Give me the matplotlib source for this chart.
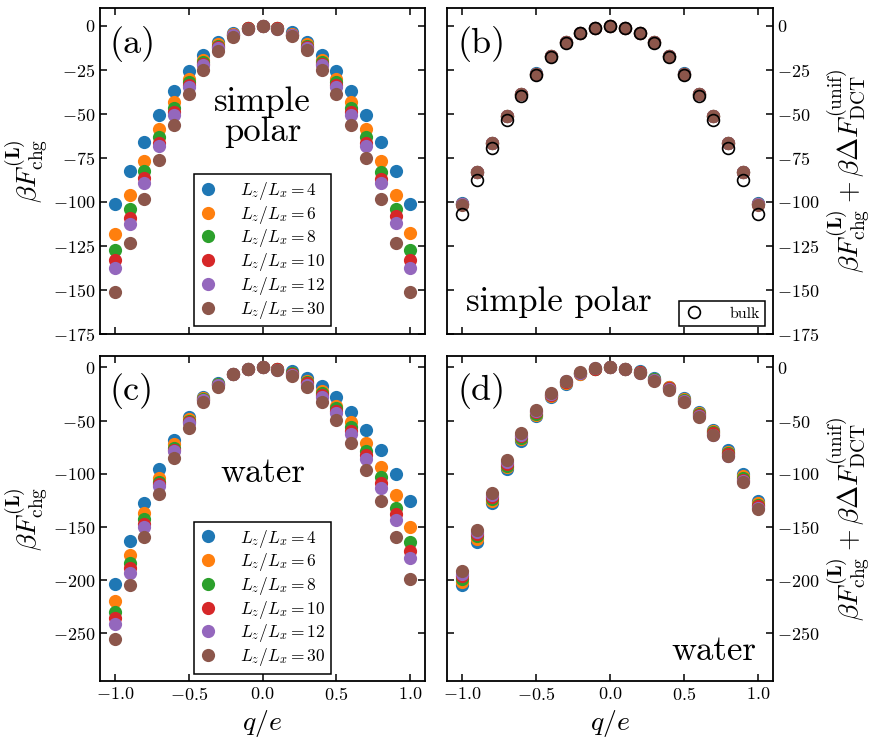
import numpy as np
import matplotlib
matplotlib.use("Agg")
import matplotlib.pyplot as plt

plt.rcParams.update({
    "font.family": "serif",
    "font.serif": ["cmr10"],
    "mathtext.fontset": "cm",
    "axes.formatter.use_mathtext": True,
    "axes.linewidth": 1.3,
})

# charge values q/e
q = [-1.0, -0.9, -0.8, -0.7, -0.6, -0.5, -0.4, -0.3, -0.2, -0.1, 0.0,
     0.1, 0.2, 0.3, 0.4, 0.5, 0.6, 0.7, 0.8, 0.9, 1.0]

ratios = [4, 6, 8, 10, 12, 30]
colors = ["tab:blue", "tab:orange", "tab:green", "tab:red", "tab:purple", "tab:brown"]

# (a) simple polar, uncorrected
sp_raw = [
    [-101.1, -82.8, -66.3, -51.0, -37.3, -25.6, -16.9, -9.3, -4.2, -1.3, 0.0, -1.3, -3.6, -9.3, -16.9, -25.6, -37.3, -51.0, -66.3, -82.8, -101.1],
    [-118.2, -96.4, -76.7, -58.7, -43.4, -30.1, -19.3, -10.5, -4.7, -1.4, 0.0, -1.4, -4.6, -10.5, -19.3, -30.1, -43.4, -58.7, -76.7, -96.0, -117.8],
    [-127.3, -104.2, -82.8, -63.3, -46.8, -32.2, -20.6, -11.3, -5.0, -1.5, 0.0, -1.5, -5.0, -11.3, -20.6, -32.2, -46.8, -63.3, -83.3, -104.2, -127.3],
    [-133.3, -109.3, -86.6, -66.7, -49.0, -33.5, -21.6, -12.0, -5.3, -1.5, 0.0, -1.5, -5.3, -12.0, -21.6, -33.5, -49.0, -66.7, -86.9, -108.3, -133.3],
    [-137.7, -112.7, -89.4, -68.6, -50.6, -34.8, -22.5, -12.5, -5.5, -1.6, 0.0, -1.6, -5.5, -12.5, -22.5, -34.8, -50.6, -68.6, -89.4, -112.1, -137.7],
    [-151.3, -123.5, -98.5, -76.1, -56.3, -38.8, -25.4, -14.6, -6.6, -1.8, 0.0, -1.8, -6.1, -14.0, -25.0, -38.8, -56.3, -75.2, -98.5, -123.5, -151.3],
]

# (b) simple polar, corrected
sp_cor = [
    [-101.0, -82.9, -66.4, -51.2, -38.6, -27.1, -17.3, -9.4, -4.1, -1.2, 0.0, -1.2, -4.1, -9.4, -17.3, -27.1, -38.6, -51.2, -66.4, -82.9, -101.0],
    [-101.2, -83.0, -66.5, -51.3, -38.7, -27.2, -17.3, -9.4, -4.2, -1.3, 0.0, -1.3, -4.2, -9.4, -17.3, -27.2, -38.7, -51.3, -66.5, -83.0, -101.2],
    [-101.4, -83.1, -66.6, -51.4, -38.7, -27.2, -17.4, -9.5, -4.2, -1.3, 0.0, -1.3, -4.2, -9.5, -17.4, -27.2, -38.7, -51.4, -66.6, -83.1, -101.4],
    [-101.5, -83.2, -66.6, -51.4, -38.8, -27.3, -17.4, -9.5, -4.2, -1.3, 0.0, -1.3, -4.2, -9.5, -17.4, -27.3, -38.8, -51.4, -66.6, -83.2, -101.5],
    [-101.6, -83.2, -66.7, -51.5, -38.8, -27.3, -17.4, -9.5, -4.2, -1.3, 0.0, -1.3, -4.2, -9.5, -17.4, -27.3, -38.8, -51.5, -66.7, -83.2, -101.6],
    [-101.7, -83.3, -66.7, -51.5, -38.8, -27.3, -17.4, -9.5, -4.2, -1.3, 0.0, -1.3, -4.2, -9.5, -17.4, -27.3, -38.8, -51.5, -66.7, -83.3, -101.7],
]
sp_bulk = [-106.8, -87.5, -69.5, -53.4, -39.8, -27.8, -17.6, -9.6, -4.3, -1.1, 0.0,
           -1.1, -4.3, -9.6, -17.6, -27.8, -39.8, -53.4, -69.5, -87.5, -106.8]

# (c) water, uncorrected
w_raw = [
    [-204.0, -163.4, -127.5, -95.9, -68.1, -46.3, -27.5, -14.7, -6.3, -1.6, 0.0, -1.6, -3.8, -10.0, -17.8, -28.1, -42.2, -58.8, -78.1, -100.6, -125.6],
    [-220.0, -176.6, -136.9, -104.0, -72.5, -48.4, -28.8, -15.3, -6.3, -1.6, 0.0, -1.8, -5.0, -12.5, -22.5, -35.9, -51.6, -71.3, -93.8, -120.3, -150.0],
    [-229.7, -184.4, -143.0, -107.8, -75.6, -50.0, -29.7, -15.9, -6.3, -1.6, 0.0, -1.9, -5.6, -13.8, -24.1, -38.4, -56.3, -78.8, -103.1, -131.9, -164.0],
    [-236.0, -189.0, -146.9, -110.0, -77.5, -51.0, -30.3, -16.3, -6.3, -1.6, 0.0, -2.0, -6.3, -15.0, -25.6, -40.6, -59.4, -82.2, -108.4, -138.1, -172.5],
    [-241.3, -193.0, -150.0, -111.6, -79.0, -52.0, -30.9, -16.6, -6.3, -1.6, 0.0, -2.1, -6.9, -16.3, -27.5, -42.8, -62.5, -85.9, -113.1, -143.8, -179.7],
    [-255.3, -204.7, -159.4, -119.4, -85.0, -56.9, -32.2, -18.1, -6.3, -1.6, 0.0, -2.5, -8.4, -18.8, -32.2, -49.4, -70.9, -96.3, -125.9, -160.0, -199.0],
]

# (d) water, corrected
w_cor = [
    [-204.7, -164.0, -128.0, -96.0, -69.0, -46.0, -28.0, -15.6, -6.3, -1.3, 0.0, -1.6, -3.8, -10.0, -18.0, -28.8, -42.2, -58.8, -78.1, -100.6, -125.6],
    [-201.5, -161.0, -125.5, -94.0, -67.3, -44.6, -27.2, -14.9, -6.0, -1.2, 0.0, -1.6, -4.1, -10.5, -18.6, -29.6, -43.2, -60.0, -79.3, -102.2, -127.5],
    [-199.0, -159.0, -123.5, -92.3, -66.0, -43.4, -26.4, -14.2, -5.6, -1.2, 0.0, -1.6, -4.4, -11.0, -19.2, -30.4, -44.2, -61.1, -80.6, -103.9, -129.2],
    [-196.5, -157.0, -121.8, -90.8, -64.6, -42.3, -25.7, -13.6, -5.3, -1.1, 0.0, -1.6, -4.7, -11.5, -19.8, -31.2, -45.2, -62.2, -81.9, -105.5, -130.7],
    [-194.0, -155.0, -120.0, -89.3, -63.4, -41.2, -25.0, -13.0, -5.0, -1.0, 0.0, -1.6, -5.0, -12.0, -20.5, -32.0, -46.0, -63.2, -82.9, -106.7, -132.0],
    [-191.3, -152.5, -118.0, -87.5, -62.0, -40.0, -24.4, -12.5, -4.7, -1.0, 0.0, -1.6, -5.3, -12.5, -21.3, -32.8, -46.9, -64.0, -83.8, -107.8, -133.4],
]

ylab_left = r"$\beta F^{(\mathbf{L})}_{\rm chg}$"
ylab_right = r"$\beta F^{(\mathbf{L})}_{\rm chg} + \beta\Delta F^{(\rm unif)}_{\rm DCT}$"

fig, axes = plt.subplots(2, 2, figsize=(8.73, 7.43), dpi=100)
fig.subplots_adjust(left=0.1145, right=0.885, top=0.989, bottom=0.0834,
                    wspace=0.069, hspace=0.068)

panels = [(axes[0, 0], sp_raw), (axes[0, 1], sp_cor),
          (axes[1, 0], w_raw), (axes[1, 1], w_cor)]
for ax, data in panels:
    for r, c, ys in zip(ratios, colors, data):
        ax.plot(q, ys, "o", ls="none", color=c, ms=9.5, mew=0,
                label=r"$L_z/L_x = %d$" % r)

axes[0, 1].plot(q, sp_bulk, "o", ls="none", mfc="none", mec="black",
                ms=8.5, mew=1.2, label="bulk", zorder=5)

for ax in axes.flat:
    ax.set_xlim(-1.1, 1.1)
    ax.set_xticks([-1.0, -0.5, 0.0, 0.5, 1.0])
    ax.tick_params(direction="in", top=True, right=True, left=True,
                   length=5, width=1.1, labelsize=13)

for ax in axes[0]:
    ax.set_ylim(-175, 10)
    ax.set_yticks([-175, -150, -125, -100, -75, -50, -25, 0])
    ax.tick_params(labelbottom=False)
for ax in axes[1]:
    ax.set_ylim(-295, 11)
    ax.set_yticks([-250, -200, -150, -100, -50, 0])
    ax.set_xticklabels(["$-1.0$", "$-0.5$", "$0.0$", "$0.5$", "$1.0$"])
    ax.set_xlabel(r"$q/e$", fontsize=20, labelpad=4)

for ax in axes[:, 0]:
    ax.set_ylabel(ylab_left, fontsize=20, labelpad=2)
for ax in axes[:, 1]:
    ax.yaxis.set_label_position("right")
    ax.tick_params(labelleft=False, labelright=True)
    ax.set_ylabel(ylab_right, fontsize=20, labelpad=4)

# panel labels and annotations
for ax, lab in zip(axes.flat, ["(a)", "(b)", "(c)", "(d)"]):
    ax.text(0.03, 0.89, lab, transform=ax.transAxes, fontsize=26,
            ha="left", va="center")

axes[0, 0].text(0.5, 0.665, "simple\npolar", transform=axes[0, 0].transAxes,
                fontsize=25, ha="center", va="center", linespacing=0.95)
axes[0, 1].text(0.058, 0.07, "simple polar", transform=axes[0, 1].transAxes,
                fontsize=25, ha="left", va="baseline")
axes[1, 0].text(0.5, 0.64, "water", transform=axes[1, 0].transAxes,
                fontsize=25, ha="center", va="center")
axes[1, 1].text(0.95, 0.065, "water", transform=axes[1, 1].transAxes,
                fontsize=25, ha="right", va="baseline")

leg_kw = dict(frameon=True, fancybox=False, edgecolor="black", framealpha=1,
              handlelength=1.0, handletextpad=1.35)
for ax in axes[:, 0]:
    leg = ax.legend(loc="lower center", fontsize=12.5, labelspacing=0.1,
                    borderaxespad=0.42, borderpad=0.32, **leg_kw)
    leg.get_frame().set_linewidth(1.1)

h, l = axes[0, 1].get_legend_handles_labels()
leg = axes[0, 1].legend([h[-1]], [l[-1]], loc="lower right", fontsize=11.5,
                        borderaxespad=0.45, borderpad=0.35, handlelength=1.2,
                        handletextpad=1.6, frameon=True, fancybox=False,
                        edgecolor="black", framealpha=1)
leg.get_frame().set_linewidth(1.1)

fig.savefig("out.png", dpi=100)
